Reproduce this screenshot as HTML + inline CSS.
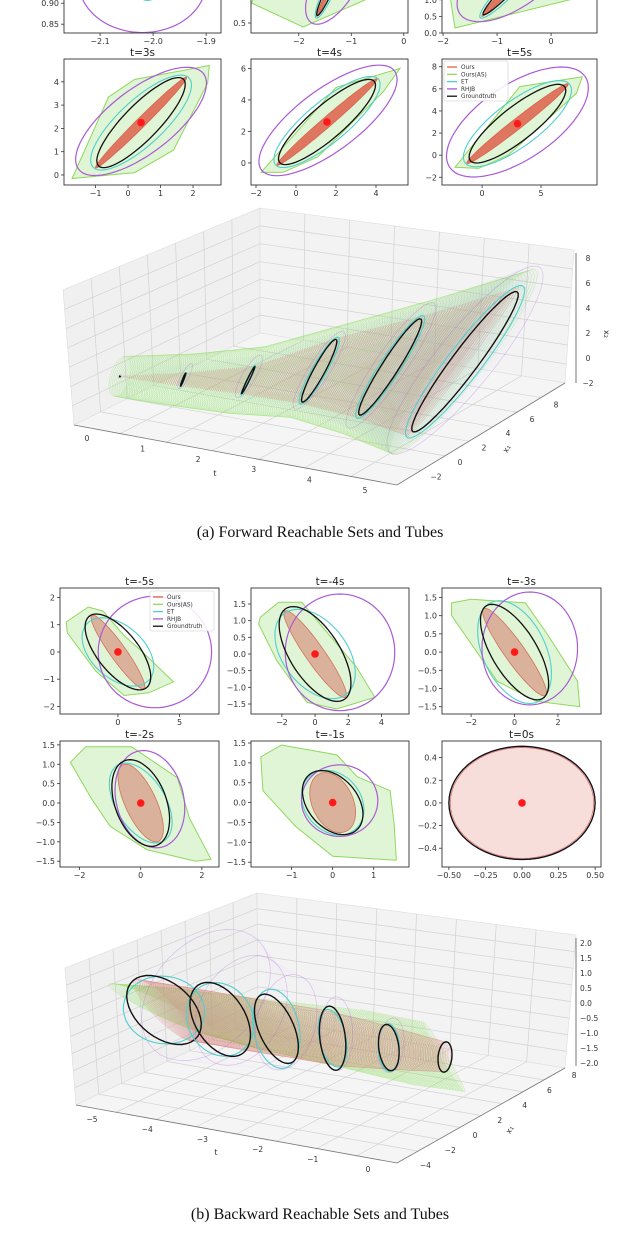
<!DOCTYPE html>
<html><head><meta charset="utf-8"><style>
html,body{margin:0;padding:0;background:#fff;width:640px;height:1258px;overflow:hidden}
svg{display:block}
.cap{font-family:"Liberation Serif",serif;font-size:16px;fill:#111}
</style></head><body>
<svg id="fig" width="640" height="1258" viewBox="0 0 640 1258" xmlns="http://www.w3.org/2000/svg">
<text class="cap" x="320" y="537" text-anchor="middle">(a) Forward Reachable Sets and Tubes</text>
<text class="cap" x="320" y="1219" text-anchor="middle">(b) Backward Reachable Sets and Tubes</text>
</svg>
<script>
// ---------- Forward data (t = 0..5), ellipses as center + u cos + v sin ----------
const fwdTimes=[0,1,2,3,4,5];
const fwdCenter=[[-2,0.93],[-1.45,1.1],[-0.75,1.4],[0.4,2.25],[1.55,2.6],[3,2.85]];
const fwdGtU=[[0.02,0.015],[0.2,0.45],[0.5,0.85],[1.3,1.87],[2.35,2.6],[4,3.35]];
const fwdGtV=[[-0.01,0.01],[0.06,-0.03],[0.1,-0.05],[0.4,-0.5],[0.6,-0.75],[0.9,-1.2]];
const fwdRedU=[[0.02,0.015],[0.21,0.47],[0.53,0.9],[1.4,1.95],[2.5,2.75],[4.3,3.6]];
const fwdRedV=[[-0.01,0.01],[0.03,-0.02],[0.06,-0.04],[0.12,-0.12],[0.2,-0.2],[0.3,-0.35]];
const fwdEtU=[[0.02,0.02],[0.22,0.5],[0.55,0.95],[1.45,1.95],[2.55,2.75],[4.4,3.6]];
const fwdEtV=[[-0.012,0.012],[0.09,-0.05],[0.15,-0.08],[0.55,-0.6],[0.75,-0.9],[1.3,-1.5]];
const fwdRhCenter=[[-2.02,0.95],[-1.3,1.3],[-0.7,1.7],[0.4,2.3],[1.6,2.7],[3,3]];
const fwdRhU=[[0.12,0],[0.45,0.8],[0.85,1.3],[1.8,2.2],[3.2,3.3],[5.6,4.3]];
const fwdRhV=[[0,0.12],[0.35,-0.2],[0.6,-0.4],[0.9,-0.75],[1.3,-1.2],[2.2,-2.5]];
const fwdAsU=[[0.3,1.6],[1.0,1.6],[1.4,2.0],[2.2,2.6],[3.5,3.5],[5.5,4.3]];
const fwdAsV=[[0.8,-0.4],[1.0,-0.8],[1.1,-0.8],[1.1,-1.0],[1.2,-1.2],[1.6,-1.7]];
const fwdHulls=[
 [],
 [[-1.92,0.42],[-0.74,0.96],[-0.2,1.8],[-1,2.3],[-2.6,1.6],[-2.9,0.9]],
 [[-1.78,0.15],[0.35,1.0],[0.6,2.0],[0,3],[-1.2,2.7],[-1.9,1.4]],
 [[-1.72,-0.15],[-0.6,3.35],[0.2,4.1],[2.5,4.7],[2.45,3.95],[1.4,1.07],[0.2,0.1]],
 [[-1.75,-0.6],[2,4.8],[5.2,6.0],[4.35,4.5],[1.1,0.4],[-0.65,-0.6]],
 [[-2.3,-1.1],[3.2,6.2],[8.5,7.1],[8.0,5.6],[4.6,2.3],[2.2,0],[-0.3,-1.2]]
];
// ---------- Backward data (t = -5..0) ----------
const bwdTimes=[-5,-4,-3,-2,-1,0];
const bwdCenter=[[0,0],[0,0],[0,0],[0,0],[0,0],[0,0]];
const bwdGtU=[[-2.2,1.35],[-1.8,1.35],[-1.35,1.25],[-0.5,1.1],[-0.35,0.8],[0,0.5]];
const bwdGtV=[[1.5,0.35],[1.2,0.45],[0.8,0.4],[0.8,0.2],[0.65,0.1],[0.5,0]];
const bwdRedU=[[-2.1,1.35],[-1.8,1.3],[-1.4,1.2],[-0.55,1.0],[-0.25,0.75],[0,0.49]];
const bwdRedV=[[0.6,0.12],[0.55,0.1],[0.45,0.1],[0.5,0.1],[0.5,0.1],[0.49,0]];
const bwdEtU=[[-2.2,1.15],[-1.9,1.2],[-1.25,1.3],[-0.7,1.0],[-0.3,0.8],[0,0.5]];
const bwdEtV=[[1.9,0.5],[1.5,0.6],[1.15,0.55],[0.75,0.25],[0.7,0.15],[0.5,0]];
const bwdRhCenter=[[3.0,0],[1.5,0.05],[0.7,0.1],[0.3,0.1],[0.17,0.05],[0,0]];
const bwdRhU=[[4.6,0],[3.3,0],[2.2,0],[-0.3,1.25],[0,0.9],[0,0.5]];
const bwdRhV=[[0,2.05],[0,1.75],[0,1.55],[1.1,0.1],[0.93,0],[0.5,0]];
const bwdAsU=[[-3.3,1.4],[-2.8,1.45],[-2.5,1.4],[-1.9,1.3],[-1.3,1.2],[-0.9,1.0]];
const bwdAsV=[[2.2,-0.6],[2,-0.7],[1.8,-0.8],[1.5,-0.9],[1.3,-1.0],[1.2,-1.0]];
const bwdHulls=[
 [[-4.2,1.1],[-2.4,1.65],[-1.2,1.5],[0.5,0.6],[2.0,0.0],[4.5,-1.1],[2.5,-1.5],[0.5,-1.6],[-1.8,-0.7],[-4.1,0.7]],
 [[-3.3,1.1],[-2.2,1.55],[-0.8,1.55],[0.3,0.9],[2.5,-0.4],[3.6,-1.3],[1.3,-1.65],[-0.5,-1.45],[-2.3,-0.2],[-3.4,0.9]],
 [[-2.9,1.35],[-2.0,1.45],[0.5,1.35],[1.5,0.5],[2.9,-0.8],[3.0,-1.5],[1.0,-1.35],[-0.8,-0.8],[-2.9,1.0]],
 [[-2.3,1.05],[-1.8,1.45],[-0.3,1.45],[1.2,0.65],[1.6,-0.4],[2.3,-1.45],[1.8,-1.5],[0.2,-1.2],[-1.0,-0.6],[-1.6,0.1]],
 [[-1.75,1.15],[-1.25,1.45],[0.1,1.2],[0.6,0.65],[1.4,0.3],[1.5,-0.55],[1.55,-1.45],[0.0,-1.35],[-0.9,-0.6],[-1.7,0.3]],
 []
];
// ---------- Tick labels ----------
const fwdPanelTitles=["t=0s","t=1s","t=2s","t=3s","t=4s","t=5s"];
const bwdPanelTitles=["t=-5s","t=-4s","t=-3s","t=-2s","t=-1s","t=0s"];
const legendLabels=["Ours","Ours(AS)","ET","RHJB","Groundtruth"];
const fwd3dTTicks=[0,1,2,3,4,5];
const fwd3dX1Ticks=[-2,0,2,4,6,8];
const fwd3dX2Ticks=[-2,0,2,4,6,8];
const bwd3dTTicks=[-5,-4,-3,-2,-1,0];
const bwd3dX1Ticks=[-4,-2,0,2,4,6,8];
const bwd3dX2Ticks=[-2,-1.5,-1,-0.5,0,0.5,1,1.5,2];

const COL={red:'#e0604c',green:'#8fd85c',cyan:'#4fcfcf',purple:'#a95ad6',black:'#111'};
const NS='http://www.w3.org/2000/svg';
const svg=document.getElementById('fig');
function mk(tag,parent,name){
  const e=document.createElementNS(NS,tag);
  
  
  parent.appendChild(e);return e;
}
function set(e,a){for(const k in a)e.setAttribute(k,a[k]);return e;}
function fmtMinus(s){return String(s).replace('-','\u2212');}
function ellPts(c,u,v,n){const p=[];for(let i=0;i<=n;i++){const s=i/n*2*Math.PI;p.push([c[0]+u[0]*Math.cos(s)+v[0]*Math.sin(s),c[1]+u[1]*Math.cos(s)+v[1]*Math.sin(s)]);}return p;}
let clipId=0;

function panel(box,xr,yr,xt,xl,yt,yl,title,name){
  const [x0,y0,x1,y1]=box;
  const g=mk('g',svg,name);
  const sx=x=>x0+(x-xr[0])/(xr[1]-xr[0])*(x1-x0);
  const sy=y=>y1-(y-yr[0])/(yr[1]-yr[0])*(y1-y0);
  const cp=mk('clipPath',g,name+'-clip');
  cp.setAttribute('id','c'+(++clipId));
  set(mk('rect',cp,name+'-clip-rect'),{x:x0,y:y0,width:x1-x0,height:y1-y0});
  const inner=mk('g',g,name+'-plot-area');
  inner.setAttribute('clip-path','url(#c'+clipId+')');
  set(mk('rect',g,name+'-frame'),{x:x0,y:y0,width:x1-x0,height:y1-y0,fill:'none',stroke:'#333','stroke-width':0.9});
  xt.forEach((v,i)=>{const X=sx(v);
    set(mk('line',g,name+'-x-tick'),{x1:X,x2:X,y1:y1,y2:y1+3,stroke:'#333','stroke-width':0.8});
    const t=set(mk('text',g,name+'-x-tick-label'),{x:X,y:y1+11,'text-anchor':'middle','font-size':8,'font-family':'DejaVu Sans, sans-serif',fill:'#333'});t.textContent=xl[i];});
  yt.forEach((v,i)=>{const Y=sy(v);
    set(mk('line',g,name+'-y-tick'),{x1:x0-3,x2:x0,y1:Y,y2:Y,stroke:'#333','stroke-width':0.8});
    const t=set(mk('text',g,name+'-y-tick-label'),{x:x0-5,y:Y+3,'text-anchor':'end','font-size':8,'font-family':'DejaVu Sans, sans-serif',fill:'#333'});t.textContent=yl[i];});
  if(title){const t=set(mk('text',g,name+'-title'),{x:(x0+x1)/2,y:y0-3,'text-anchor':'middle','font-size':10.5,'font-family':'DejaVu Sans, sans-serif',fill:'#222'});t.textContent=title;}
  return {g:inner,sx,sy,root:g};
}
function poly(P,pts,name,attrs){const d=pts.map((p,i)=>(i?'L':'M')+P.sx(p[0]).toFixed(1)+' '+P.sy(p[1]).toFixed(1)).join('')+'Z';
  return set(mk('path',P.g,name),Object.assign({d:d},attrs));}

function drawSet(P,i,D,opts){
  if(D.hull[i].length) poly(P,D.hull[i],'ours-as-hull',{fill:'rgba(160,225,125,0.32)',stroke:COL.green,'stroke-width':1});
  poly(P,ellPts(D.c[i],D.redU[i],D.redV[i],60),'ours-set',{fill:opts.redFill,stroke:'rgba(210,90,70,0.8)','stroke-width':0.8});
  poly(P,ellPts(D.c[i],D.etU[i],D.etV[i],60),'et-set',{fill:'none',stroke:COL.cyan,'stroke-width':1.1});
  poly(P,ellPts(D.rhC[i],D.rhU[i],D.rhV[i],80),'rhjb-set',{fill:'none',stroke:COL.purple,'stroke-width':1.2});
  poly(P,ellPts(D.c[i],D.gtU[i],D.gtV[i],60),'groundtruth-set',{fill:'none',stroke:COL.black,'stroke-width':1.3});
  set(mk('circle',P.g,'center-point'),{cx:P.sx(D.c[i][0]),cy:P.sy(D.c[i][1]),r:3.8,fill:'#ff1a1a'});
}
function legend(x,y,name){
  const g=mk('g',svg,name);
  set(mk('rect',g,name+'-box'),{x:x,y:y,width:64,height:40,rx:2,fill:'rgba(255,255,255,0.85)',stroke:'#ccc','stroke-width':0.6});
  const cols=[COL.red,COL.green,COL.cyan,COL.purple,COL.black];
  legendLabels.forEach((l,i)=>{const yy=y+6+i*7.3;
    set(mk('line',g,'legend-swatch'),{x1:x+3,x2:x+13,y1:yy,y2:yy,stroke:cols[i],'stroke-width':1.3});
    const t=set(mk('text',g,'legend-entry'),{x:x+17,y:yy+2,'font-size':5.8,'font-family':'DejaVu Sans, sans-serif',fill:'#333'});t.textContent=l;});
}

const FWD={c:fwdCenter,gtU:fwdGtU,gtV:fwdGtV,redU:fwdRedU,redV:fwdRedV,etU:fwdEtU,etV:fwdEtV,rhC:fwdRhCenter,rhU:fwdRhU,rhV:fwdRhV,asU:fwdAsU,asV:fwdAsV,hull:fwdHulls};
const BWD={c:bwdCenter,gtU:bwdGtU,gtV:bwdGtV,redU:bwdRedU,redV:bwdRedV,etU:bwdEtU,etV:bwdEtV,rhC:bwdRhCenter,rhU:bwdRhU,rhV:bwdRhV,asU:bwdAsU,asV:bwdAsV,hull:bwdHulls};

// ---- forward panels ----
const m=s=>s.map(fmtMinus);
const fp=[
 [[64,-100,221,33],[-2.168,-1.872],[0.829,1.146],[-2.1,-2.0,-1.9],m(['-2.1','-2.0','-1.9']),[0.85,0.9],['0.85','0.90'],null],
 [[251,-100,408,33],[-2.91,0.08],[0.3,2.96],[-2,-1,0],m(['-2','-1','0']),[0.5],['0.5'],null],
 [[442,-100,597,33],[-2.02,0.85],[0,4.0],[-2,-1,0],m(['-2','-1','0']),[0,0.5,1],['0.0','0.5','1.0'],null],
 [[64,59,221,185],[-1.97,2.86],[-0.43,4.98],[-1,0,1,2],m(['-1','0','1','2']),[0,1,2,3,4],['0','1','2','3','4'],fwdPanelTitles[3]],
 [[251,59,408,185],[-2.25,5.6],[-1.4,6.6],[-2,0,2,4],m(['-2','0','2','4']),[0,2,4,6],['0','2','4','6'],fwdPanelTitles[4]],
 [[442,59,597,185],[-3.4,9.75],[-2.7,8.7],[0,5],['0','5'],[-2,0,2,4,6,8],m(['-2','0','2','4','6','8']),fwdPanelTitles[5]]
];
fp.forEach((a,i)=>{const P=panel(a[0],a[1],a[2],a[3],a[4],a[5],a[6],a[7],'forward-panel-t'+fwdTimes[i]);
  drawSet(P,i,FWD,{redFill:'rgba(222,95,75,0.85)'});});
legend(444,61,'forward-legend');

// ---- backward panels ----
const yb=[-1.5,-1,-0.5,0,0.5,1,1.5], ybl=m(['-1.5','-1.0','-0.5','0.0','0.5','1.0','1.5']);
const bp=[
 [[60,588,219,714],[-4.7,8.2],[-2.28,2.35],[0,5],['0','5'],[-2,-1,0,1,2],m(['-2','-1','0','1','2'])],
 [[251,588,409,714],[-3.86,5.66],[-1.8,1.98],[-2,0,2,4],m(['-2','0','2','4']),yb,ybl],
 [[442,588,601,714],[-3.34,3.98],[-1.7,1.76],[-2,0,2],m(['-2','0','2']),yb,ybl],
 [[60,741,219,867],[-2.64,2.56],[-1.65,1.6],[-2,0,2],m(['-2','0','2']),yb,ybl],
 [[251,741,409,867],[-1.99,1.86],[-1.62,1.55],[-1,0,1],m(['-1','0','1']),yb,ybl],
 [[442,741,601,867],[-0.547,0.54],[-0.566,0.547],[-0.5,-0.25,0,0.25,0.5],m(['-0.50','-0.25','0.00','0.25','0.50']),[-0.4,-0.2,0,0.2,0.4],m(['-0.4','-0.2','0.0','0.2','0.4'])]
];
bp.forEach((a,i)=>{const P=panel(a[0],a[1],a[2],a[3],a[4],a[5],a[6],bwdPanelTitles[i],'backward-panel-t'+bwdTimes[i]);
  drawSet(P,i,BWD,{redFill:i===5?'rgba(232,160,150,0.35)':'rgba(212,110,95,0.5)'});});
legend(150,591,'backward-legend');

// ---------- 3D tubes ----------
function box3d(name,corners,grid){
  const g=mk('g',svg,name);
  const panes=[[corners.lt,corners.lb,corners.bb,corners.bt],[corners.bt,corners.rt,corners.rb,corners.bb],[corners.lb,corners.fr,corners.rb,corners.bb]];
  const pn=['left-pane','back-pane','floor-pane'];
  const fills=['#f0f0f0','#f3f3f3','#f5f5f5'];
  panes.forEach((q,k)=>{set(mk('polygon',g,name+'-'+pn[k]),{points:q.map(p=>p.join(',')).join(' '),fill:fills[k],stroke:'#ddd','stroke-width':0.6});
    const L=(a,b,t)=>[a[0]+(b[0]-a[0])*t,a[1]+(b[1]-a[1])*t];
    for(let i=1;i<grid;i++){const t=i/grid;
      let A=L(q[0],q[3],t),B=L(q[1],q[2],t);
      set(mk('line',g,name+'-gridline'),{x1:A[0],y1:A[1],x2:B[0],y2:B[1],stroke:'#d2d2d2','stroke-width':0.7});
      A=L(q[0],q[1],t);B=L(q[3],q[2],t);
      set(mk('line',g,name+'-gridline'),{x1:A[0],y1:A[1],x2:B[0],y2:B[1],stroke:'#d2d2d2','stroke-width':0.7});}
  });
  set(mk('polyline',g,name+'-axis-edges'),{points:[corners.lb,corners.fr,corners.rb].map(p=>p.join(',')).join(' '),fill:'none',stroke:'#777','stroke-width':0.8});
  set(mk('line',g,name+'-z-axis'),{x1:corners.za[0],y1:corners.za[1],x2:corners.zb[0],y2:corners.zb[1],stroke:'#555','stroke-width':0.8});
  return g;
}
function lerpArr(A,f){const i=Math.min(Math.floor(f),A.length-2),r=f-i;return [A[i][0]+(A[i+1][0]-A[i][0])*r,A[i][1]+(A[i+1][1]-A[i][1])*r];}
function tube(name,times,D,proj,step,rhFill,rhStroke){
  const g=mk('g',svg,name);
  const n=times.length-1;
  const path=(t,c,u,v)=>ellPts(c,u,v,40).map((p,i)=>{const q=proj(t,p[0],p[1]);return (i?'L':'M')+q[0].toFixed(1)+' '+q[1].toFixed(1);}).join('');
  for(let f=0;f<=n+1e-9;f+=step){const t=times[0]+(times[n]-times[0])*f/n;
    set(mk('path',g,'rhjb-tube-slice'),{d:path(t,lerpArr(D.rhC,f),lerpArr(D.rhU,f),lerpArr(D.rhV,f)),fill:rhFill,stroke:rhStroke,'stroke-width':0.5});}
  for(let f=0;f<=n+1e-9;f+=step){const t=times[0]+(times[n]-times[0])*f/n;
    set(mk('path',g,'ours-as-tube-slice'),{d:path(t,lerpArr(D.c,f),lerpArr(D.asU,f),lerpArr(D.asV,f)),fill:'rgba(200,235,180,0.02)',stroke:'rgba(135,220,85,0.45)','stroke-width':0.5});}
  for(let f=0;f<=n+1e-9;f+=step){const t=times[0]+(times[n]-times[0])*f/n;
    set(mk('path',g,'ours-tube-slice'),{d:path(t,lerpArr(D.c,f),lerpArr(D.redU,f),lerpArr(D.redV,f)),fill:'rgba(220,160,150,0.03)',stroke:'rgba(215,125,115,0.45)','stroke-width':0.5});}
  times.forEach((t,i)=>{
    set(mk('path',g,'rhjb-set-3d'),{d:path(t,D.rhC[i],D.rhU[i],D.rhV[i]),fill:'none',stroke:'rgba(170,100,220,0.35)','stroke-width':0.7});
    set(mk('path',g,'et-set-3d'),{d:path(t,D.c[i],D.etU[i],D.etV[i]),fill:'none',stroke:COL.cyan,'stroke-width':1.1});
    set(mk('path',g,'groundtruth-set-3d'),{d:path(t,D.c[i],D.gtU[i],D.gtV[i]),fill:'none',stroke:COL.black,'stroke-width':1.4});
  });
}
function lbl(txt,x,y,name,sz){const t=set(mk('text',svg,name),{x:x,y:y,'text-anchor':'middle','font-size':sz||7.5,'font-family':'DejaVu Sans, sans-serif',fill:'#333'});t.textContent=txt;return t;}

// forward 3D
box3d('forward-3d-box',{lt:[63,290],lb:[74,425],bt:[260,208],bb:[260,333],rt:[574,250],rb:[565,383],fr:[397,485],za:[576,253],zb:[576,383]},7);
const projF=(t,a,b)=>[146+56*t+13*a,370+9.6*t-8.3*a-11*b];
tube('forward-tube',fwdTimes,FWD,projF,0.03,'rgba(190,140,230,0.012)','rgba(185,130,225,0.03)');
fwd3dTTicks.forEach(v=>{lbl(fmtMinus(v),87+55.6*v,441+10.4*v,'forward-t-tick-label');});
lbl('t',215,476,'forward-t-axis-title',8);
fwd3dX1Ticks.forEach(v=>{lbl(fmtMinus(v),460+12*v,465-7.2*v,'forward-x1-tick-label');});
lbl('x\u2081',509,450,'forward-x1-axis-title',8).setAttribute('transform','rotate(-60 509 450)');
fwd3dX2Ticks.forEach(v=>{lbl(fmtMinus(v),588,361-12.5*v,'forward-x2-tick-label');});
lbl('x\u2082',604,334,'forward-x2-axis-title',8).setAttribute('transform','rotate(90 604 334)');

// backward 3D
box3d('backward-3d-box',{lt:[65,968],lb:[76,1105],bt:[257,893],bb:[258,1018],rt:[576,935],rb:[565,1068],fr:[397,1163],za:[576,938],zb:[576,1066]},8);
const projB=(t,a,b)=>[445+56.2*t+14*a,1057+9.4*t-5*a-30*b];
tube('backward-tube',bwdTimes,BWD,projB,0.03,'rgba(200,165,235,0.005)','rgba(185,140,225,0.015)');
bwd3dTTicks.forEach(v=>{lbl(fmtMinus(v),368+55.2*v,1172+10*v,'backward-t-tick-label');});
lbl('t',216,1155,'backward-t-axis-title',8);
bwd3dX1Ticks.forEach(v=>{lbl(fmtMinus(v),475+12.4*v,1138-7.5*v,'backward-x1-tick-label');});
lbl('x\u2081',512,1131,'backward-x1-axis-title',8).setAttribute('transform','rotate(-60 512 1131)');
bwd3dX2Ticks.forEach(v=>{const t=lbl(fmtMinus(v.toFixed(1)),580,1006-30*v,'backward-x2-tick-label');t.setAttribute('text-anchor','start');});
</script>
</body></html>
